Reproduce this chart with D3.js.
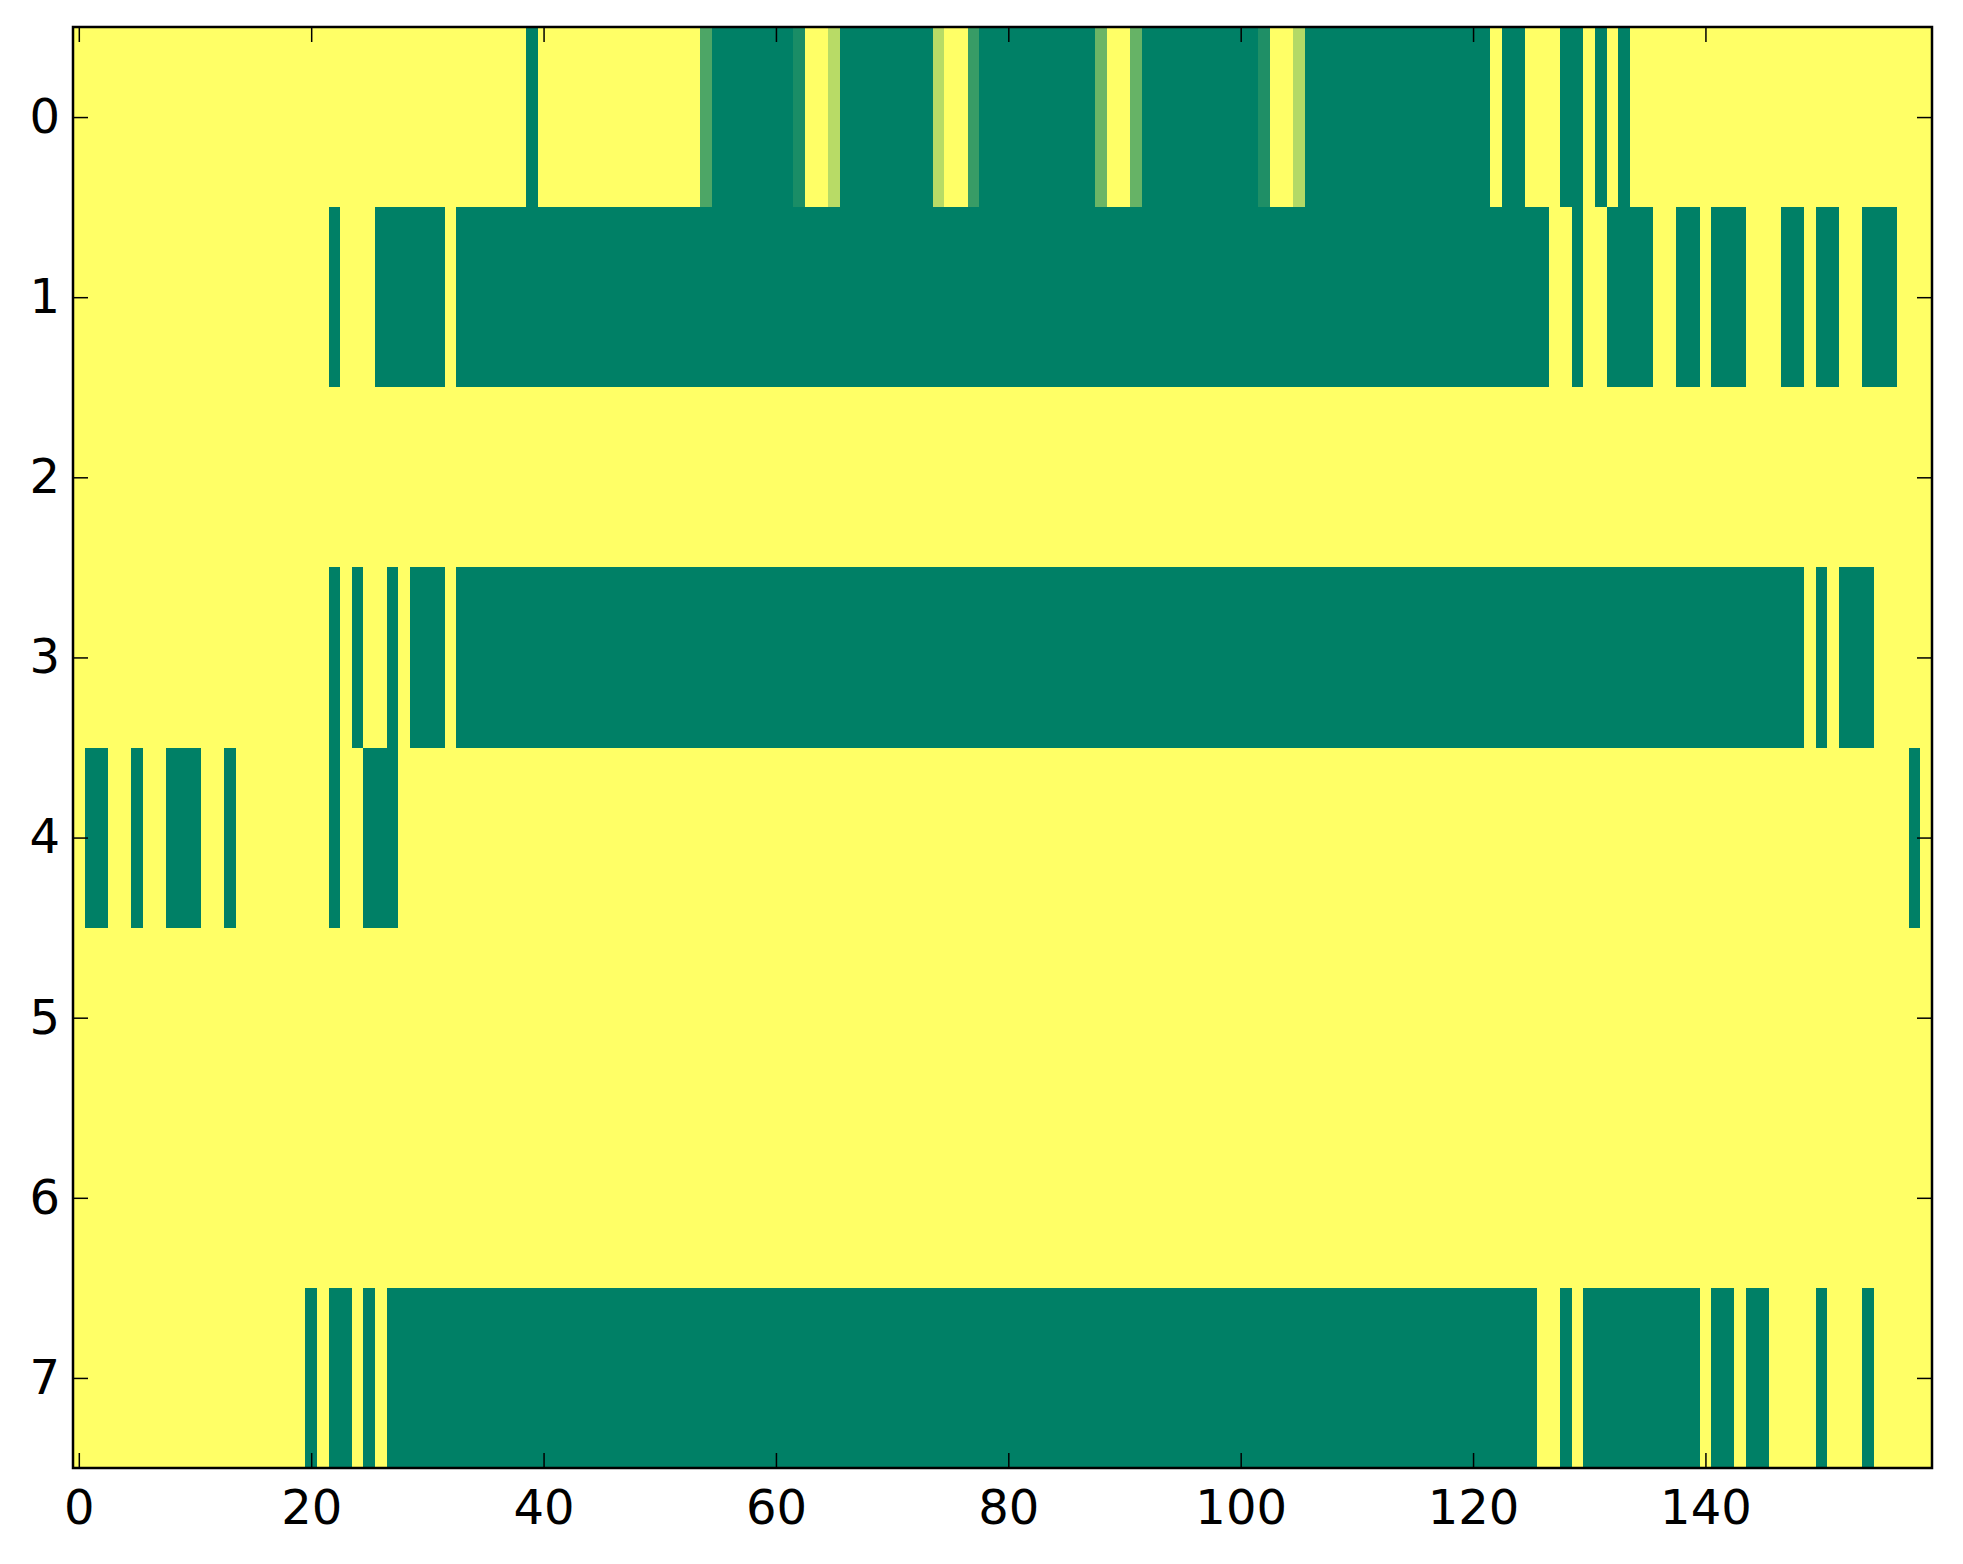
<!DOCTYPE html>
<html>
<head>
<meta charset="utf-8">
<script src="https://cdn.jsdelivr.net/npm/d3@7"></script>
<style>
  html, body { margin: 0; padding: 0; background: #ffffff; }
  svg { display: block; }
</style>
</head>
<body>
<div id="chart"></div>
<script>
// ---- Data (run-length encoded rows: [value, number of consecutive columns]) ----
const nColumns = 160;
const rowLabels = [0, 1, 2, 3, 4, 5, 6, 7];
const xTickValues = [0, 20, 40, 60, 80, 100, 120, 140];

const row0Runs = [[0,39],[1,1],[0,14],[0.7,1],[1,7],[0.9,1],[0,2],[0.28,1],[1,8],[0.28,1],[0,2],[0.78,1],[1,10],[0.58,1],[0,2],[0.6,1],[1,10],[0.88,1],[0,2],[0.3,1],[1,16],[0,1],[1,2],[0,3],[1,2],[0,1],[1,1],[0,1],[1,1],[0,26]];
const row1Runs = [[0,22],[1,1],[0,3],[1,6],[0,1],[1,94],[0,2],[1,1],[0,2],[1,4],[0,2],[1,2],[0,1],[1,3],[0,3],[1,2],[0,1],[1,2],[0,2],[1,3],[0,3]];
const row2Runs = [[0,160]];
const row3Runs = [[0,22],[1,1],[0,1],[1,1],[0,2],[1,1],[0,1],[1,3],[0,1],[1,116],[0,1],[1,1],[0,1],[1,3],[0,5]];
const row4Runs = [[0,1],[1,2],[0,2],[1,1],[0,2],[1,3],[0,2],[1,1],[0,8],[1,1],[0,2],[1,3],[0,130],[1,1],[0,1]];
const row5Runs = [[0,160]];
const row6Runs = [[0,160]];
const row7Runs = [[0,20],[1,1],[0,1],[1,2],[0,1],[1,1],[0,1],[1,99],[0,2],[1,1],[0,1],[1,10],[0,1],[1,2],[0,1],[1,2],[0,4],[1,1],[0,3],[1,1],[0,5]];

const allRows = [row0Runs, row1Runs, row2Runs, row3Runs, row4Runs, row5Runs, row6Runs, row7Runs];

// Build cell table from the runs
const cells = [];
allRows.forEach((runs, r) => {
  let col = 0;
  runs.forEach(([v, n]) => {
    for (let k = 0; k < n; k++) { cells.push({ row: r, col: col, value: v }); col++; }
  });
});

// ---- Layout ----
const W = 1963, H = 1564;
const mLeft = 73, mRight = 1932, mTop = 27, mBottom = 1468;

const svg = d3.select("#chart").append("svg").attr("width", W).attr("height", H);

const x = d3.scaleLinear().domain([-0.5, nColumns - 0.5]).range([mLeft, mRight]);
const y = d3.scaleLinear().domain([-0.5, rowLabels.length - 0.5]).range([mTop, mBottom]);
const color = d3.scaleLinear().domain([0, 1]).range(["#ffff66", "#008066"]);

svg.append("g")
  .attr("shape-rendering", "crispEdges")
  .selectAll("rect")
  .data(cells)
  .join("rect")
  .attr("x", d => x(d.col - 0.5))
  .attr("y", d => y(d.row - 0.5))
  .attr("width", d => x(d.col + 0.5) - x(d.col - 0.5) + 0.5)
  .attr("height", d => y(d.row + 0.5) - y(d.row - 0.5) + 0.5)
  .attr("fill", d => color(d.value));

const fontFamily = "'DejaVu Sans', sans-serif";
const fontSize = 48;
const tickLen = 15;

function styleAxis(g, showLabels) {
  g.select(".domain").remove();
  g.selectAll(".tick line").attr("stroke", "#000").attr("stroke-width", 1.5);
  g.selectAll(".tick text")
    .attr("fill", "#000")
    .style("font-family", fontFamily)
    .style("font-size", fontSize + "px");
  if (!showLabels) g.selectAll(".tick text").remove();
}

// bottom axis
svg.append("g")
  .attr("transform", `translate(0,${mBottom})`)
  .call(d3.axisBottom(x).tickValues(xTickValues).tickFormat(d3.format("d")).tickSizeInner(-tickLen).tickSizeOuter(0).tickPadding(22))
  .call(g => styleAxis(g, true));

// top axis
svg.append("g")
  .attr("transform", `translate(0,${mTop})`)
  .call(d3.axisTop(x).tickValues(xTickValues).tickSizeInner(-tickLen).tickSizeOuter(0))
  .call(g => styleAxis(g, false));

// left axis
svg.append("g")
  .attr("transform", `translate(${mLeft},0)`)
  .call(d3.axisLeft(y).tickValues(rowLabels).tickFormat(d3.format("d")).tickSizeInner(-tickLen).tickSizeOuter(0).tickPadding(13))
  .call(g => styleAxis(g, true));

// right axis
svg.append("g")
  .attr("transform", `translate(${mRight},0)`)
  .call(d3.axisRight(y).tickValues(rowLabels).tickSizeInner(-tickLen).tickSizeOuter(0))
  .call(g => styleAxis(g, false));

// frame
svg.append("rect")
  .attr("x", mLeft).attr("y", mTop)
  .attr("width", mRight - mLeft).attr("height", mBottom - mTop)
  .attr("fill", "none").attr("stroke", "#000").attr("stroke-width", 2.5);
</script>
</body>
</html>
